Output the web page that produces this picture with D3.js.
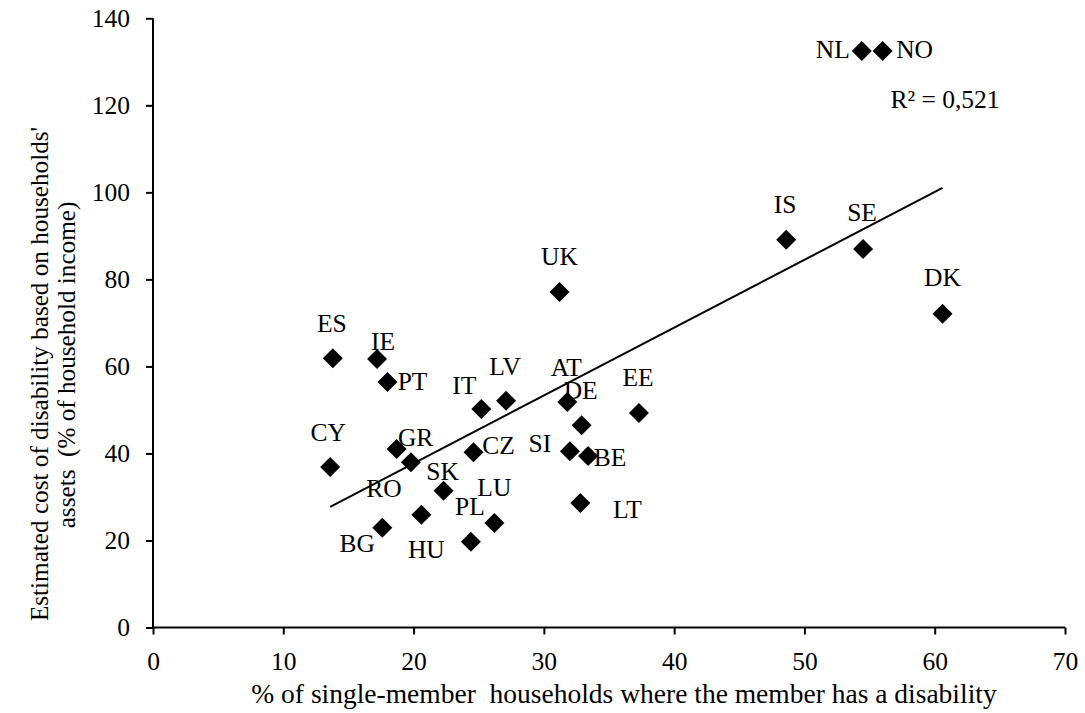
<!DOCTYPE html>
<html><head><meta charset="utf-8">
<script src="https://cdn.jsdelivr.net/npm/d3@7"></script>
<style>
html,body{margin:0;padding:0;background:#fff;}
text{font-family:"Liberation Serif","Times New Roman",serif;fill:#000;}
</style></head>
<body><svg id="c" width="1085" height="713"></svg>
<script>
const countries = ["ES","IE","PT","CY","GR","RO","SK","CZ","HU","BG","LU","PL","IT","LV","AT","DE","SI","BE","LT","EE","UK","IS","SE","DK","NL","NO"];
const singleShare = [13.8,17.2,18.0,13.6,18.7,19.8,22.3,24.6,20.6,17.6,26.2,24.4,25.2,27.1,31.8,32.9,32.0,33.4,32.8,37.3,31.2,48.6,54.5,60.6,54.4,56.0];
const costShare   = [61.9,61.7,56.4,36.9,41.0,38.0,31.4,40.3,25.9,22.9,24.0,19.7,50.2,52.1,51.8,46.5,40.5,39.4,28.6,49.3,77.1,89.1,87.0,72.1,132.5,132.5];
const xTicks = [0,10,20,30,40,50,60,70];
const yTicks = [0,20,40,60,80,100,120,140];
const r2Label = "R² = 0,521";
const xTitle = "% of single-member  households where the member has a disability";
const yTitle1 = "Estimated cost of disability based on households'";
const yTitle2 = "assets  (% of household income)";

// label offsets (pixels) relative to each marker
const labelOffset = {
  ES:[-1,-35], IE:[6,-17], PT:[25,0], CY:[-2,-34], GR:[19,-12], RO:[-27,26], SK:[-1,-19],
  CZ:[25,-7], HU:[5,35], BG:[-25,16], LU:[0,-35], PL:[-1,-35], IT:[-17,-23], LV:[-1,-34],
  AT:[-1,-35], DE:[-1,-35], SI:[-30,-8], BE:[22,2], LT:[47,7], EE:[-1,-35], UK:[0,-35],
  IS:[-1,-35], SE:[-1,-36], DK:[0,-36], NL:[-29,-1], NO:[32,-1]
};

const svg = d3.select("#c");
const L = 153, R = 1065, T = 18.3, B = 627.5;
const x = d3.scaleLinear().domain([0,70]).range([L,R]);
const y = d3.scaleLinear().domain([0,140]).range([B,T]);
const fs = 25.5;

// axes
const xAxis = svg.append("g").attr("transform",`translate(0,${B})`)
  .call(d3.axisBottom(x).tickValues(xTicks).tickSize(7).tickPadding(13).tickFormat(d3.format("d")));
const yAxis = svg.append("g").attr("transform",`translate(${L},0)`)
  .call(d3.axisLeft(y).tickValues(yTicks).tickSize(7).tickPadding(16).tickFormat(d3.format("d")));
[xAxis,yAxis].forEach(g=>{
  g.select(".domain").attr("stroke","#000").attr("stroke-width",2).attr("d", g===xAxis ? `M${L},0H${R}` : `M0,${B}V${T}`);
  g.selectAll(".tick line").attr("stroke","#000").attr("stroke-width",2);
  g.selectAll(".tick text").attr("font-size",fs).attr("font-family","Liberation Serif");
});
xAxis.selectAll(".tick text").attr("y",0).attr("dy",0).attr("transform","translate(0,42)");

// trendline (least squares)
const n = countries.length;
const mx = d3.mean(singleShare), my = d3.mean(costShare);
let sxy=0,sxx=0;
for(let i=0;i<n;i++){sxy+=(singleShare[i]-mx)*(costShare[i]-my);sxx+=(singleShare[i]-mx)**2;}
const slope = sxy/sxx, icpt = my - slope*mx;
const x0 = d3.min(singleShare), x1 = d3.max(singleShare);
svg.append("line")
  .attr("x1",x(x0)).attr("y1",y(icpt+slope*x0))
  .attr("x2",x(x1)).attr("y2",y(icpt+slope*x1))
  .attr("stroke","#000").attr("stroke-width",2);

// markers
const sym = d3.symbol().type(d3.symbolSquare).size(200);
svg.append("g").selectAll("path").data(countries).join("path")
  .attr("d",sym)
  .attr("transform",(d,i)=>`translate(${x(singleShare[i])},${y(costShare[i])}) rotate(45)`)
  .attr("fill","#000");

// labels
svg.append("g").selectAll("text").data(countries).join("text")
  .attr("x",(d,i)=>x(singleShare[i])+labelOffset[d][0])
  .attr("y",(d,i)=>y(costShare[i])+labelOffset[d][1])
  .attr("dy","0.33em")
  .attr("text-anchor","middle")
  .attr("font-size",fs)
  .text(d=>d);

svg.append("text").attr("x",945).attr("y",100).attr("dy","0.33em")
  .attr("text-anchor","middle").attr("font-size",fs).text(r2Label);

svg.append("text").attr("x",624).attr("y",703)
  .attr("text-anchor","middle").attr("font-size",27.5)
  .style("white-space","pre").attr("xml:space","preserve").text(xTitle);

svg.append("text").attr("transform","translate(40,374) rotate(-90)").attr("dy","0.33em")
  .attr("text-anchor","middle").attr("font-size",25.2).text(yTitle1);
svg.append("text").attr("transform","translate(67,365) rotate(-90)").attr("dy","0.33em")
  .attr("text-anchor","middle").attr("font-size",25.2)
  .style("white-space","pre").text(yTitle2);
</script></body></html>
